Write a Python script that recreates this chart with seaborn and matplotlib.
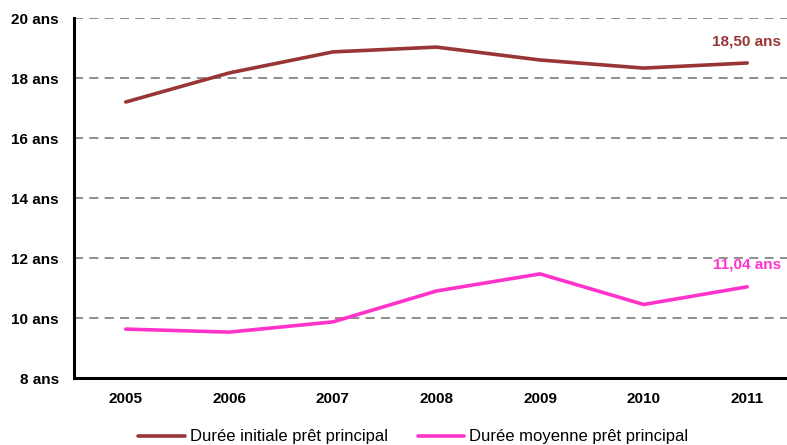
import matplotlib.pyplot as plt
import pandas as pd
import seaborn as sns

YEARS = ["2005", "2006", "2007", "2008", "2009", "2010", "2011"]
INITIALE = [17.2, 18.17, 18.87, 19.03, 18.6, 18.33, 18.5]
MOYENNE = [9.63, 9.53, 9.87, 10.9, 11.47, 10.45, 11.04]
SERIES = ["Durée initiale prêt principal", "Durée moyenne prêt principal"]
END_LABELS = ["18,50 ans", "11,04 ans"]
Y_TICKS = [8, 10, 12, 14, 16, 18, 20]

palette = {SERIES[0]: "#993535", SERIES[1]: "#FF33CC"}

df = pd.DataFrame(
    {
        "year": YEARS * 2,
        "value": INITIALE + MOYENNE,
        "series": [SERIES[0]] * len(YEARS) + [SERIES[1]] * len(YEARS),
    }
)
df["pos"] = list(range(len(YEARS))) * 2

sns.set_theme(style="white")
plt.rcParams["font.family"] = ["Liberation Sans", "DejaVu Sans"]
plt.rcParams["text.color"] = "black"
plt.rcParams["xtick.color"] = "black"
plt.rcParams["ytick.color"] = "black"

fig = plt.figure(figsize=(7.87, 4.45), dpi=100)
ax = fig.add_axes([74 / 787, 1 - 378 / 445, 725 / 787, 360 / 445])

ax.set_ylim(8, 20)
ax.set_xlim(-0.5, len(YEARS) - 0.5)
for y in Y_TICKS[1:]:
    ax.axhline(y, color="#858585", linestyle=(0, (5, 3.5)), linewidth=1.3, zorder=0)

sns.lineplot(data=df, x="pos", y="value", hue="series", palette=palette,
             linewidth=2.6, ax=ax, legend=False)

for series, values, label in zip(SERIES, [INITIALE, MOYENNE], END_LABELS):
    ax.annotate(label, xy=(len(YEARS) - 1, values[-1]), xytext=(34, 22),
                textcoords="offset pixels", ha="right", va="center",
                color=palette[series], fontsize=11, fontweight="bold")

ax.set_xticks(range(len(YEARS)))
ax.set_xticklabels(YEARS, fontweight="bold", fontsize=11)
ax.set_yticks(Y_TICKS)
ax.set_yticklabels([f"{v} ans" for v in Y_TICKS], fontweight="bold", fontsize=11)
ax.tick_params(axis="both", length=0)
ax.tick_params(axis="x", pad=10)
ax.tick_params(axis="y", pad=11)
ax.set_xlabel("")
ax.set_ylabel("")

for side in ["top", "right"]:
    ax.spines[side].set_visible(False)
for side in ["left", "bottom"]:
    ax.spines[side].set_color("black")
    ax.spines[side].set_linewidth(2.2)

handles = [plt.Line2D([], [], color=palette[s], linewidth=2.6) for s in SERIES]
fig.legend(handles, SERIES, loc="center", bbox_to_anchor=(0.525, 1 - 437 / 445),
           ncol=2, frameon=False, fontsize=12, handlelength=2.8,
           handletextpad=0.3, columnspacing=1.8)

fig.savefig("out.png", dpi=100)
